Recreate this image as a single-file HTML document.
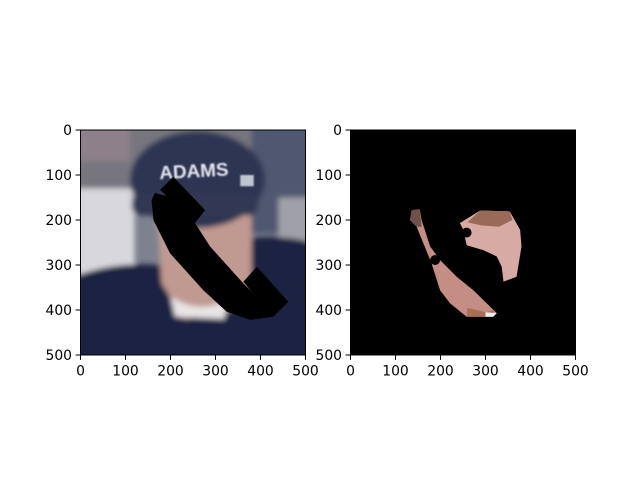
<!DOCTYPE html>
<html><head><meta charset="utf-8"><style>
body{margin:0;background:#fff;}
svg{display:block;font-family:"DejaVu Sans","Liberation Sans",sans-serif;}
</style></head><body>
<svg width="640" height="480" viewBox="0 0 640 480">
<defs>
<filter id="blur" x="-20%" y="-20%" width="140%" height="140%"><feGaussianBlur stdDeviation="6"/></filter>
<filter id="blur2"><feGaussianBlur stdDeviation="2"/></filter>
<clipPath id="clipL"><rect x="0" y="0" width="500" height="500"/></clipPath>
<clipPath id="clipR"><rect x="0" y="0" width="500" height="500"/></clipPath>
</defs>

<g transform="translate(80.5,130) scale(0.45)">
<g clip-path="url(#clipL)">
<rect width="500" height="500" fill="#7e828f"/>
<g filter="url(#blur)">
<rect x="-50" y="-50" width="600" height="220" fill="#77767f"/>
<rect x="-50" y="-50" width="160" height="120" fill="#8d8088"/>
<rect x="-50" y="130" width="170" height="200" fill="#d8d8dc"/>
<rect x="380" y="-50" width="170" height="280" fill="#505870"/>
<rect x="440" y="150" width="110" height="120" fill="#a0a0a8"/>
<path d="M-50,340 Q60,290 170,300 L380,240 Q460,230 550,260 L550,550 L-50,550Z" fill="#1c2442"/>
<path d="M170,190 L380,190 L380,330 L340,400 L230,420 L180,340Z" fill="#c09a90"/>
<path d="M200,370 Q260,410 325,380 L320,420 L210,415Z" fill="#e8e4e6"/>
<ellipse cx="260" cy="110" rx="150" ry="108" fill="#2e3652"/>
<rect x="114" y="140" width="280" height="50" rx="20" fill="#313852"/>
</g>
<text x="175" y="105" font-size="42" font-weight="bold" fill="#e6e8ee" font-family="Liberation Sans,sans-serif" transform="rotate(-3 270 90)" filter="url(#blur2)">ADAMS</text>
<rect x="355" y="100" width="30" height="25" fill="#c0c4cc" filter="url(#blur2)"/>
<polygon fill="#000" points="165,140 158,156 162,200 199,274 273,356 325,404 377,422 428,415 400,380 362,341 288,259 250,200 205,150"/>
<polygon points="206,104 277,178 254,207 177,133" fill="#000"/>
<polygon points="392,304 462,382 428,415 362,337" fill="#000"/>
</g>
</g>

<g transform="translate(350.5,130) scale(0.45)">
<g clip-path="url(#clipR)">
<rect width="500" height="500" fill="#000"/>
<polygon points="136,178 154,176 158,200 177,259 199,289 236,326 273,356 325,407 317,415 258,415 221,385 199,356 180,296 162,252 147,215 132,200" fill="#c48e84"/>
<polygon points="136,178 154,176 158,215 147,215 132,200" fill="#70504a"/>
<polygon points="260,395 300,405 320,400 317,415 258,415" fill="#a87050"/>
<polygon points="300,405 325,407 317,415 300,415" fill="#f0eeee"/>
<circle cx="188" cy="289" r="11" fill="#000"/>
<polygon points="243,207 288,179 354,181 377,222 380,259 369,326 340,337 336,304 325,281 295,267 258,256 251,222" fill="#d8aaa4"/>
<polygon points="288,179 354,181 360,200 330,215 290,212 260,205" fill="#9a6a58"/>
<circle cx="258" cy="228" r="11" fill="#000"/>
</g>
</g>

<g fill="none" stroke="#000" stroke-width="1">
<rect x="80.5" y="130" width="225" height="225"/>
<rect x="350.5" y="130" width="225" height="225"/>
</g>
<g id="ticks" font-size="13.9" fill="#000"></g>
</svg>
<script>
const tickValues=[0,100,200,300,400,500];
const tickLabels=["0","100","200","300","400","500"];
const ns="http://www.w3.org/2000/svg";
const g=document.getElementById('ticks');
const axes=[{x0:80.5,name:'left'},{x0:350.5,name:'right'}];
const y0=130,size=225,ext=500;
function sx(a,v){return a.x0+v/ext*size;}
function sy(v){return y0+v/ext*size;}
axes.forEach(a=>{
 tickValues.forEach((v,i)=>{
  let l=document.createElementNS(ns,'line');
  l.setAttribute('x1',sx(a,v));l.setAttribute('x2',sx(a,v));
  l.setAttribute('y1',y0+size);l.setAttribute('y2',y0+size+4.9);
  l.setAttribute('stroke','#000');
  
  
  g.appendChild(l);
  let t=document.createElementNS(ns,'text');
  t.setAttribute('x',sx(a,v));t.setAttribute('y',y0+size+20.5);
  t.setAttribute('text-anchor','middle');t.textContent=tickLabels[i];
  
  
  g.appendChild(t);
  let l2=document.createElementNS(ns,'line');
  l2.setAttribute('x1',a.x0-4.9);l2.setAttribute('x2',a.x0);
  l2.setAttribute('y1',sy(v));l2.setAttribute('y2',sy(v));
  l2.setAttribute('stroke','#000');
  
  
  g.appendChild(l2);
  let t2=document.createElementNS(ns,'text');
  t2.setAttribute('x',a.x0-8.5);t2.setAttribute('y',sy(v)+5);
  t2.setAttribute('text-anchor','end');t2.textContent=tickLabels[i];
  
  
  g.appendChild(t2);
 });
});
</script>
</body></html>
